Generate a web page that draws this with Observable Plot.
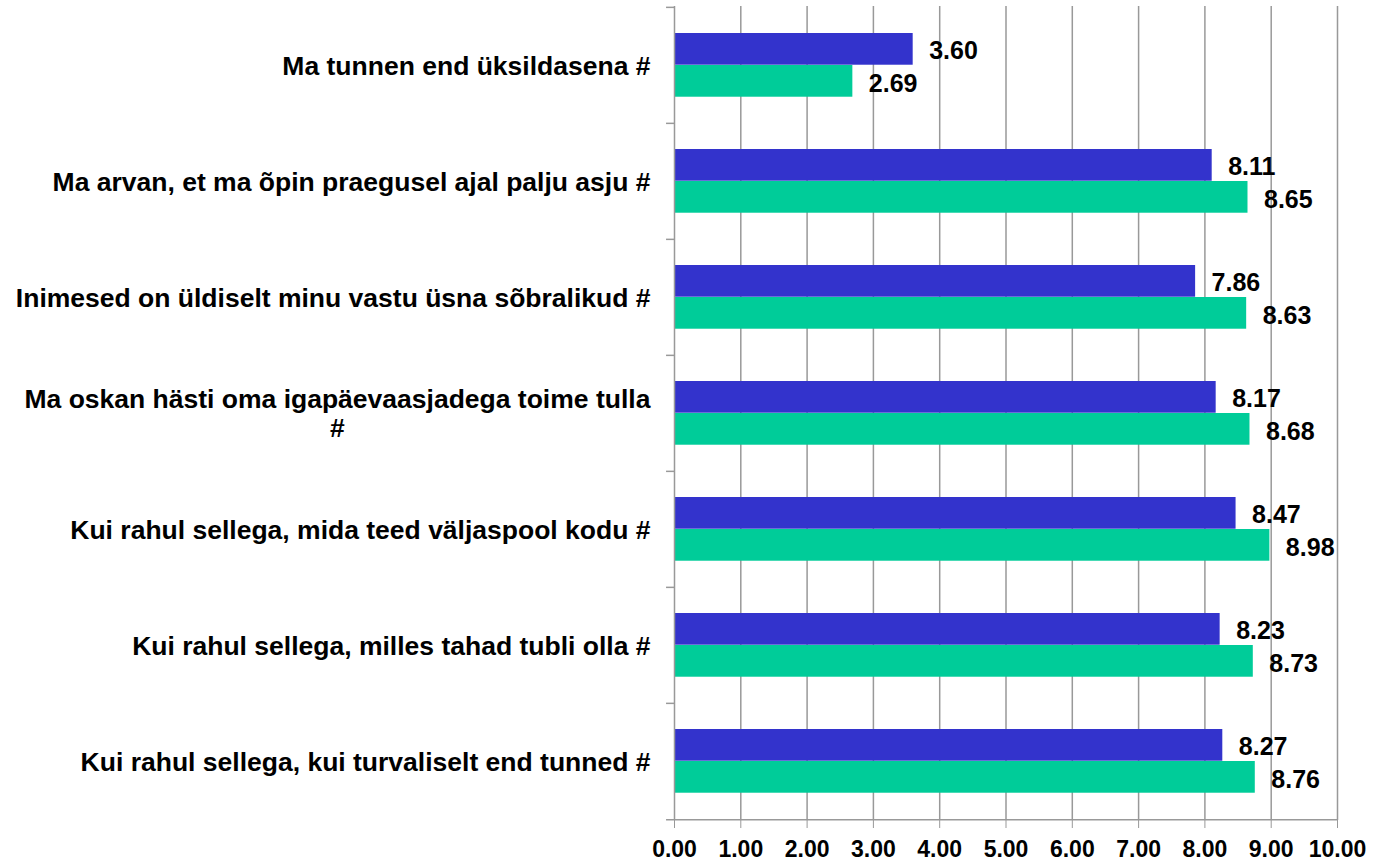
<!DOCTYPE html>
<html>
<head>
<meta charset="utf-8">
<script src="https://cdn.jsdelivr.net/npm/d3@7"></script>
<script src="https://cdn.jsdelivr.net/npm/@observablehq/plot@0.6"></script>
<style>
  html, body { margin: 0; padding: 0; background: #fff; }
  #chart svg { display: block; }
</style>
</head>
<body>
<div id="chart"></div>
<script>
const categories = [
  "Ma tunnen end üksildasena #",
  "Ma arvan, et ma õpin praegusel ajal palju asju #",
  "Inimesed on üldiselt minu vastu üsna sõbralikud #",
  "Ma oskan hästi oma igapäevaasjadega toime tulla\n#",
  "Kui rahul sellega, mida teed väljaspool kodu #",
  "Kui rahul sellega, milles tahad tubli olla #",
  "Kui rahul sellega, kui turvaliselt end tunned #"
];
const series1 = [3.60, 8.11, 7.86, 8.17, 8.47, 8.23, 8.27];
const series2 = [2.69, 8.65, 8.63, 8.68, 8.98, 8.73, 8.76];
const xTicks = [0, 1, 2, 3, 4, 5, 6, 7, 8, 9, 10];

const blue = "#3333CC";
const green = "#00CC99";
const gray = "#999999";

const d1 = categories.map((c, i) => ({category: c, value: series1[i]}));
const d2 = categories.map((c, i) => ({category: c, value: series2[i]}));

const W = 1385, H = 865;
const mt = 6, mb = 45, ml = 674, mr = 48;
const step = (H - mt - mb) / categories.length;
const font = "'Liberation Sans', Arial, sans-serif";

const plot = Plot.plot({
  width: W,
  height: H,
  marginTop: mt,
  marginBottom: mb,
  marginLeft: ml,
  marginRight: mr,
  style: {fontFamily: font, fontWeight: "bold", fontSize: "24px", color: "#000", background: "#fff", overflow: "visible"},
  x: {domain: [0, 10], label: null},
  y: {domain: categories, padding: 0, axis: null},
  marks: [
    Plot.ruleX(xTicks.slice(1), {stroke: gray, strokeWidth: 1.5}),
    Plot.barX(d1, {y: "category", x: "value", fill: blue, insetTop: 26, insetBottom: step - 58}),
    Plot.barX(d2, {y: "category", x: "value", fill: green, insetTop: 58, insetBottom: step - 90}),
    Plot.text(d1, {y: "category", x: "value", text: d => d.value.toFixed(2), textAnchor: "start", dx: 16, dy: -15, fontSize: 25, fontWeight: "bold", fill: "#000"}),
    Plot.text(d2, {y: "category", x: "value", text: d => d.value.toFixed(2), textAnchor: "start", dx: 16, dy: 18, fontSize: 25, fontWeight: "bold", fill: "#000"}),
    Plot.ruleX([0], {stroke: gray, strokeWidth: 1.5}),
    Plot.ruleY(categories, {y: d => d, x1: -0.12, x2: 0, dy: -step / 2, stroke: gray, strokeWidth: 1.5}),
    Plot.ruleY(categories.slice(-1), {y: d => d, x1: -0.12, x2: 10, dy: step / 2, stroke: gray, strokeWidth: 1.5}),
    Plot.axisX({ticks: xTicks, tickFormat: d => d.toFixed(2), tickSize: 8, tickPadding: 12, stroke: gray, fill: "#000", fontSize: 23, fontWeight: "bold", label: null}),
    Plot.text(categories, {y: d => d, x: 0, text: d => d, textAnchor: "end", dx: -24, dy: 0, fontSize: 26.5, fontWeight: "bold", fill: "#000", lineHeight: 1.06})
  ]
});

document.getElementById("chart").appendChild(plot);

// Center wrapped lines of multi-line category labels (as in the original)
plot.querySelectorAll("text").forEach(t => {
  const spans = t.querySelectorAll("tspan");
  if (spans.length > 1) {
    const w = t.getBBox().width;
    t.setAttribute("text-anchor", "middle");
    spans.forEach(s => {
      s.setAttribute("text-anchor", "middle");
      s.setAttribute("dx", -w / 2);
    });
  }
});
</script>
</body>
</html>
